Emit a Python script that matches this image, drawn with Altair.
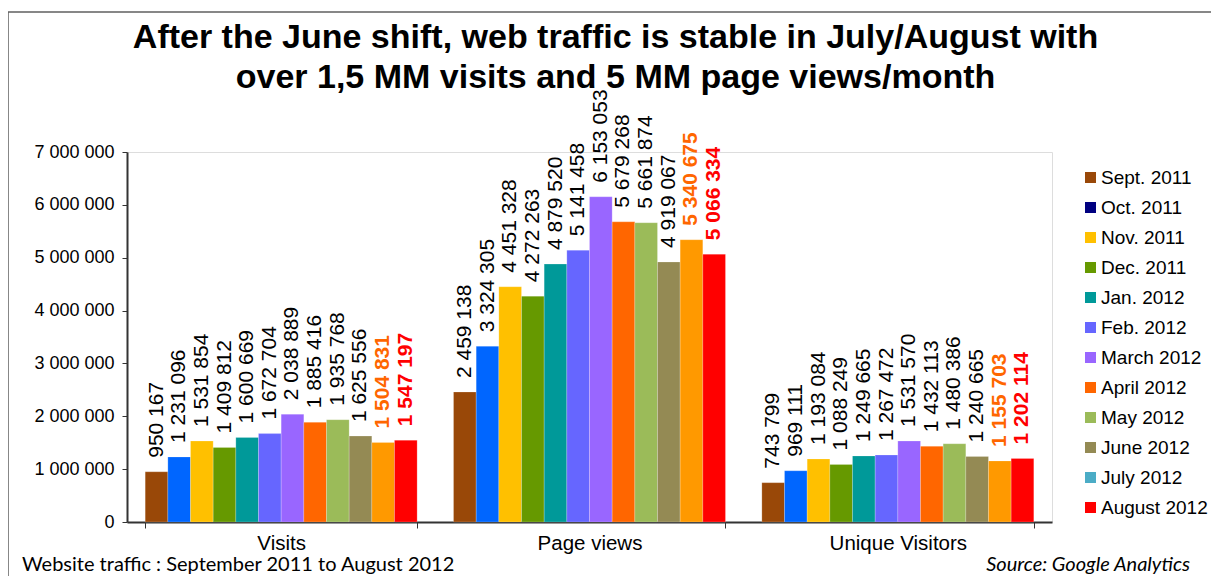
import altair as alt
import pandas as pd

categories = ["Visits", "Page views", "Unique Visitors"]
months = ["Sept. 2011", "Oct. 2011", "Nov. 2011", "Dec. 2011", "Jan. 2012", "Feb. 2012",
          "March 2012", "April 2012", "May 2012", "June 2012", "July 2012", "August 2012"]
visits = [950167, 1231096, 1531854, 1409812, 1600669, 1672704,
          2038889, 1885416, 1935768, 1625556, 1504831, 1547197]
page_views = [2459138, 3324305, 4451328, 4272263, 4879520, 5141458,
              6153053, 5679268, 5661874, 4919067, 5340675, 5066334]
unique_visitors = [743799, 969111, 1193084, 1088249, 1249665, 1267472,
                   1531570, 1432113, 1480386, 1240665, 1155703, 1202114]
bar_colors = ["#994808", "#0066FF", "#FFC000", "#669900", "#009999", "#6666FF",
              "#9966FF", "#FF6600", "#9BBB59", "#948A54", "#FF9900", "#FF0000"]
legend_colors = ["#994808", "#000080", "#FFC000", "#669900", "#009999", "#6666FF",
                 "#9966FF", "#FF6600", "#9BBB59", "#948A54", "#4BACC6", "#FF0000"]
label_colors = ["#000000"] * 10 + ["#FF6600", "#FF0000"]
label_bold = [False] * 10 + [True, True]

title_lines = ["After the June shift, web traffic is stable in July/August with",
               "over 1,5 MM visits and 5 MM page views/month"]
footer_left = "Website traffic : September 2011 to August 2012"
footer_right = "Source: Google Analytics"

rows = []
for cat, vals in zip(categories, [visits, page_views, unique_visitors]):
    for i, m in enumerate(months):
        rows.append({
            "category": cat,
            "month": m,
            "value": vals[i],
            "label": f"{vals[i]:,}".replace(",", " "),
            "barcolor": bar_colors[i],
            "labelcolor": label_colors[i],
            "bold": label_bold[i],
        })
df = pd.DataFrame(rows)

FONT = "Liberation Sans"

x_enc = alt.X("category:N", sort=categories,
              scale=alt.Scale(paddingInner=0.118, paddingOuter=0.059),
              axis=alt.Axis(title=None, labelAngle=0, labelFontSize=20.5, labelFont=FONT,
                            labelColor="#000000", tickBand="extent", ticks=True,
                            tickSize=6, tickColor="#333333", labelPadding=5,
                            domainColor="#333333", domainWidth=2, grid=False))
xoff_enc = alt.XOffset("month:N", sort=months,
                       scale=alt.Scale(paddingInner=0, paddingOuter=0))
y_enc = alt.Y("value:Q", scale=alt.Scale(domain=[0, 7000000], nice=False),
              axis=alt.Axis(title=None, values=[i * 1000000 for i in range(8)],
                            labelExpr="replace(format(datum.value, ','), regexp(',', 'g'), ' ')",
                            labelFontSize=18, labelFont=FONT, labelColor="#000000",
                            tickSize=5, tickColor="#333333", labelPadding=8,
                            domainColor="#333333", domainWidth=2,
                            gridColor="#8c8c8c", gridWidth=1))

base = alt.Chart(df)

legend_layer = base.mark_bar().encode(
    x=x_enc, xOffset=xoff_enc,
    y=alt.datum(0),
    color=alt.Color("month:N", sort=months,
                    scale=alt.Scale(domain=months, range=legend_colors),
                    legend=alt.Legend(title=None, orient="none", legendX=954, legendY=16,
                                      symbolType="square", symbolSize=121,
                                      symbolStrokeWidth=0, labelFontSize=19,
                                      labelFont=FONT, labelColor="#000000",
                                      labelOffset=1, rowPadding=10,
                                      labelLimit=200)),
)

bars = base.mark_bar(stroke="#ffffff", strokeWidth=0.4, strokeOpacity=0.5).encode(
    x=x_enc, xOffset=xoff_enc, y=y_enc,
    fill=alt.Fill("barcolor:N", scale=None, legend=None),
)

labels_normal = base.transform_filter("!datum.bold").mark_text(
    angle=270, align="left", baseline="middle", dx=14, fontSize=21, font=FONT
).encode(
    x=x_enc, xOffset=xoff_enc, y=y_enc, text="label:N",
    fill=alt.Fill("labelcolor:N", scale=None, legend=None),
)

labels_bold = base.transform_filter("datum.bold").mark_text(
    angle=270, align="left", baseline="middle", dx=14, fontSize=21, font=FONT,
    fontWeight="bold"
).encode(
    x=x_enc, xOffset=xoff_enc, y=y_enc, text="label:N",
    fill=alt.Fill("labelcolor:N", scale=None, legend=None),
)

one = pd.DataFrame({"a": [0]})
frame = alt.Chart(one).mark_rect(fill=None, stroke="#606060", strokeWidth=1.5).encode(
    x=alt.value(-119), x2=alt.value(1300), y=alt.value(-140), y2=alt.value(700)
)
foot_l = alt.Chart(one).mark_text(align="left", baseline="alphabetic", fontSize=20,
                                  font="Lato", color="#000000").encode(
    x=alt.value(-105), y=alt.value(419), text=alt.value(footer_left))
foot_r = alt.Chart(one).mark_text(align="right", baseline="alphabetic", fontSize=20,
                                  font="Lato", fontStyle="italic", color="#000000").encode(
    x=alt.value(1063), y=alt.value(419), text=alt.value(footer_right))

chart = alt.layer(frame, legend_layer, bars, labels_normal, labels_bold, foot_l, foot_r).properties(
    width=925, height=370,
    title=alt.TitleParams(text=title_lines, fontSize=34, font=FONT, fontWeight="bold",
                          color="#000000", anchor="middle", lineHeight=40, dx=26, offset=-84),
    autosize=alt.AutoSizeParams(type="none"),
    padding={"left": 119, "top": 144, "right": 159, "bottom": 54},
).configure_view(stroke="#8c8c8c", strokeWidth=1).configure(background="#ffffff")

chart.save("out.html", embed_options={"renderer": "svg", "actions": False})
